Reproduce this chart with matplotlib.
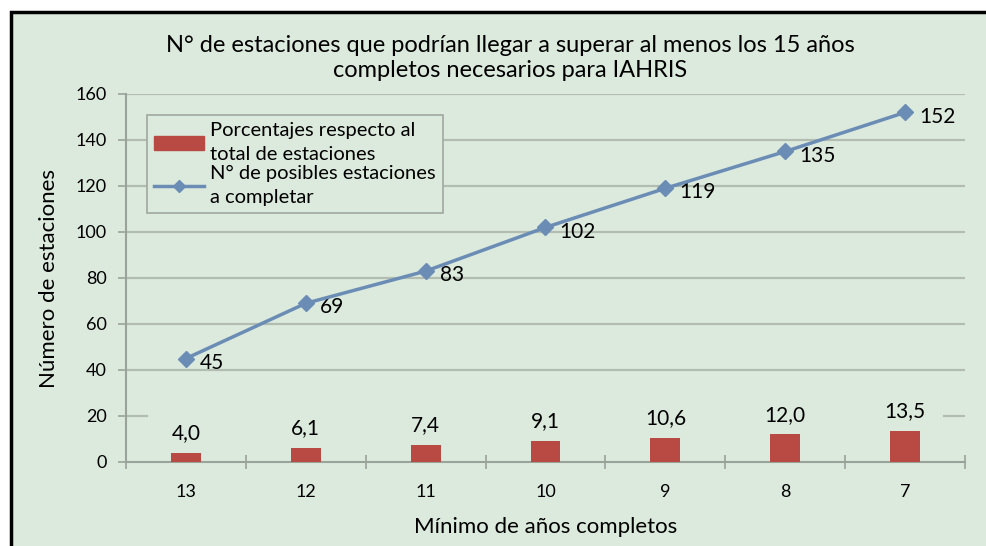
import numpy as np
import matplotlib.pyplot as plt
from matplotlib.patches import Rectangle
from matplotlib.lines import Line2D

plt.rcParams['font.family'] = ['Lato', 'DejaVu Sans']

years_min = ["13", "12", "11", "10", "9", "8", "7"]
stations = [45, 69, 83, 102, 119, 135, 152]
percent = [4.0, 6.1, 7.4, 9.1, 10.6, 12.0, 13.5]
percent_labels = ["4,0", "6,1", "7,4", "9,1", "10,6", "12,0", "13,5"]

bg = "#dceadd"
grid_col = "#b3bcb0"
bar_col = "#b84a43"
line_col = "#6b8db5"

fig = plt.figure(figsize=(9.87, 5.46), dpi=100)
fig.patch.set_facecolor("white")
fig.patches.append(Rectangle((11 / 987, -0.05), 1.1, 1 - 12 / 546 + 0.05,
                             transform=fig.transFigure, facecolor=bg,
                             edgecolor="black", lw=2.5, zorder=-1))

ax = fig.add_axes([126 / 987, 1 - 462 / 546, (965 - 126) / 987, (462 - 94) / 546])
ax.set_facecolor(bg)
ax.patch.set_alpha(0)

x = np.arange(len(years_min))

# gridlines (the 20 line is mostly hidden behind the labels in the original)
for g in range(40, 161, 20):
    ax.axhline(g, color=grid_col, lw=1.6, zorder=1)
ax.axhline(20, xmin=0, xmax=0.025, color=grid_col, lw=1.6, zorder=1)
ax.axhline(20, xmin=0.975, xmax=1, color=grid_col, lw=1.6, zorder=1)

ax.bar(x, percent, width=0.25, color=bar_col, zorder=3)
ax.plot(x, stations, color=line_col, lw=2.5, marker="D", markersize=8, zorder=4)

for xi, v in zip(x, stations):
    ax.annotate(str(v), (xi, v), xytext=(10, -3), textcoords="offset points",
                ha="left", va="center", fontsize=15)
for xi, v, lab in zip(x, percent, percent_labels):
    ax.annotate(lab, (xi, v), xytext=(0, 7), textcoords="offset points",
                ha="center", va="bottom", fontsize=15)

ax.set_xlim(-0.5, len(x) - 0.5)
ax.set_ylim(0, 160)
ax.set_yticks(range(0, 161, 20))
ax.set_xticks(x)
ax.set_xticklabels(years_min)
ax.set_xticks(np.arange(-0.5, len(x), 1), minor=True)
ax.tick_params(axis="x", which="major", length=0, pad=16, labelsize=13)
ax.tick_params(axis="x", which="minor", direction="inout", length=10, color="#9aa39a", width=1.2)
ax.tick_params(axis="y", length=6, color="#9aa39a", width=1.2, labelsize=13, pad=8)

for s in ["top", "right"]:
    ax.spines[s].set_visible(False)
for s in ["left", "bottom"]:
    ax.spines[s].set_color("#9aa39a")
    ax.spines[s].set_linewidth(1.5)

ax.set_ylabel("Número de estaciones", fontsize=16, labelpad=12)
ax.set_xlabel("Mínimo de años completos", fontsize=16, labelpad=12)

fig.text(0.517, 1 - 58 / 546, "N° de estaciones que podrían llegar a superar al menos los 15 años\ncompletos necesarios para IAHRIS",
         ha="center", va="center", fontsize=17, linespacing=1.25)

handles = [Rectangle((0, 0), 1, 1, color=bar_col),
           Line2D([], [], color=line_col, lw=2.5, marker="D", markersize=6)]
leg = ax.legend(handles, ["Porcentajes respecto al\ntotal de estaciones",
                          "N° de posibles estaciones\na completar"],
                loc="upper left", bbox_to_anchor=(0.013, 0.97), fontsize=14.5,
                frameon=True, fancybox=False, framealpha=1, facecolor=bg,
                edgecolor="#a0a8a0", handlelength=2.5, handletextpad=0.3,
                labelspacing=0.1, borderpad=0.35)
leg.get_frame().set_linewidth(1.2)
for t in leg.get_texts():
    t.set_linespacing(1.5)

fig.savefig("out.png", dpi=100)
